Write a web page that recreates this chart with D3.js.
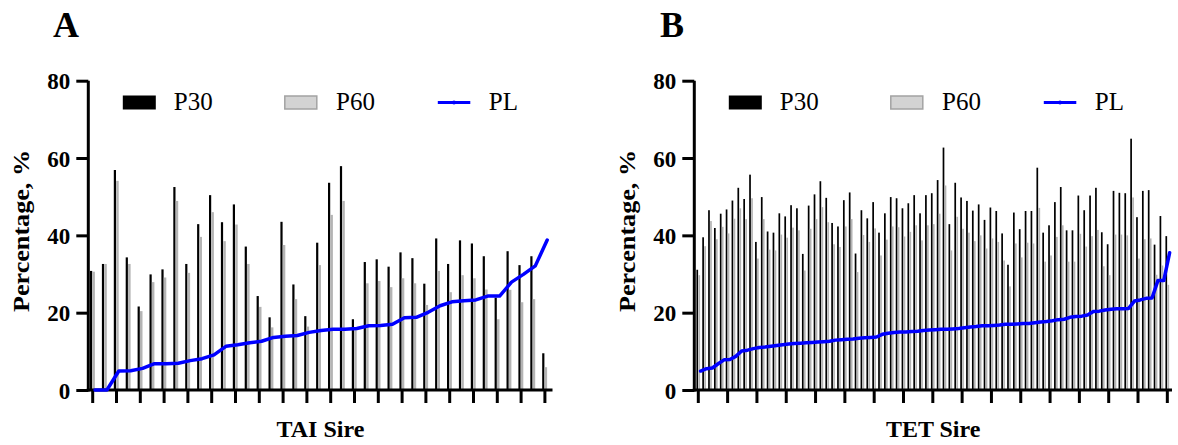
<!DOCTYPE html>
<html>
<head>
<meta charset="utf-8">
<script src="https://cdn.jsdelivr.net/npm/d3@7"></script>
<style>
  html, body { margin: 0; padding: 0; background: #fff; }
  svg { display: block; }
</style>
</head>
<body>
<svg id="chart" width="1178" height="445"></svg>
<script>
// ---------------- DATA ----------------
const seriesNames = ["P30", "P60", "PL"];
const yTicks = [0, 20, 40, 60, 80];

// Panel A: TAI Sire (39 sires)
const A_P30 = [30.8, 32.6, 56.9, 34.3, 21.6, 29.9, 31.2, 52.5, 32.6, 42.9,
               50.4, 43.4, 48.0, 37.1, 24.3, 18.8, 43.5, 27.3, 19.1, 38.1,
               53.6, 57.9, 18.3, 33.1, 33.8, 31.9, 35.6, 34.1, 27.5, 39.2,
               32.6, 38.7, 37.9, 34.6, 23.9, 35.9, 32.3, 34.6, 9.5];
const A_P60 = [30.6, 32.6, 54.1, 32.6, 20.4, 27.9, 29.1, 48.9, 30.3, 39.6,
               46.0, 38.5, 42.8, 32.6, 21.5, 16.2, 37.5, 23.5, 16.4, 32.3,
               45.3, 48.9, 15.7, 27.6, 28.2, 26.6, 28.9, 27.6, 22.0, 30.8,
               25.3, 29.7, 28.9, 26.0, 18.3, 25.9, 22.7, 23.5, 5.9];
const A_PL  = [0, 0, 4.9, 5.0, 5.6, 6.8, 6.8, 6.9, 7.6, 8.1,
               9.1, 11.3, 11.7, 12.2, 12.6, 13.6, 13.9, 14.1, 14.9, 15.4,
               15.7, 15.7, 15.9, 16.6, 16.7, 17.0, 18.7, 18.8, 20.1, 21.8,
               22.8, 23.1, 23.3, 24.3, 24.3, 27.9, 29.9, 32.1, 38.8];

// Panel B: TET Sire (81 sires)
const B_P30 = [31.1, 39.5, 46.5, 41.9, 45.6, 46.7, 49.0, 52.3, 49.4, 55.7,
               38.3, 49.9, 41.0, 40.7, 45.7, 44.9, 47.8, 47.0, 35.2, 47.7,
               50.6, 54.0, 49.7, 43.2, 42.3, 49.1, 51.1, 35.3, 46.5, 44.4,
               48.6, 40.7, 45.7, 49.9, 49.6, 47.0, 48.3, 50.4, 45.7, 50.4,
               50.9, 54.3, 62.7, 42.9, 53.6, 49.8, 48.9, 46.4, 48.0, 44.0,
               47.2, 46.3, 40.5, 32.4, 45.9, 41.6, 46.3, 46.3, 57.5, 40.7,
               42.6, 48.6, 52.5, 41.3, 41.3, 50.3, 46.5, 50.3, 52.3, 40.8,
               37.7, 51.5, 51.0, 50.9, 65.0, 44.7, 51.5, 51.7, 37.6, 45.0,
               39.8];
const B_P60 = [29.7, 37.2, 43.7, 39.0, 42.2, 40.5, 44.3, 47.0, 44.2, 49.6,
               34.0, 44.2, 36.3, 36.1, 40.2, 39.4, 42.0, 41.3, 30.9, 41.7,
               44.2, 47.3, 43.4, 37.7, 37.0, 42.3, 44.2, 30.5, 40.1, 38.3,
               41.8, 34.8, 38.9, 42.3, 42.1, 39.7, 40.9, 42.6, 38.7, 42.6,
               42.9, 45.6, 52.9, 36.1, 44.8, 41.7, 40.7, 38.5, 40.0, 36.6,
               39.2, 38.3, 33.5, 26.8, 37.9, 34.3, 38.1, 37.9, 47.1, 33.2,
               34.8, 39.6, 42.6, 33.2, 33.2, 40.4, 37.1, 39.8, 41.4, 32.0,
               29.7, 40.2, 40.2, 40.0, 49.8, 34.0, 39.0, 39.2, 29.8, 32.2,
               27.2];
const B_PL  = [4.9, 5.5, 5.7, 6.8, 7.8, 7.9, 8.7, 10.1, 10.3, 10.7,
               11.0, 11.1, 11.3, 11.5, 11.7, 11.9, 12.0, 12.1, 12.2, 12.3,
               12.4, 12.5, 12.6, 12.9, 13.0, 13.1, 13.2, 13.4, 13.5, 13.6,
               13.7, 14.4, 14.7, 14.9, 15.0, 15.0, 15.1, 15.2, 15.4, 15.5,
               15.6, 15.7, 15.7, 15.8, 15.9, 16.1, 16.3, 16.4, 16.6, 16.6,
               16.7, 16.8, 17.0, 17.0, 17.1, 17.2, 17.2, 17.4, 17.6, 17.7,
               17.9, 18.2, 18.3, 18.8, 19.0, 19.1, 19.4, 20.3, 20.4, 20.7,
               20.9, 21.0, 21.0, 21.1, 23.0, 23.3, 23.7, 23.8, 28.3, 28.3,
               35.5];

// ---------------- DRAW ----------------
const svg = d3.select("#chart");
const FONT = '"Liberation Serif", "Times New Roman", Tinos, serif';
const BLUE = "#0000ff";

function txt(sel, size, bold) {
  return sel.style("font-family", FONT).style("font-size", size + "px")
    .style("font-weight", bold ? "bold" : "normal").style("fill", "#000");
}

const panels = [
  { label: "A", xTitle: "TAI Sire", p30: A_P30, p60: A_P60, pl: A_PL,
    axisX: 88.3, bandRange: [86.75, 550.85], axisEnd: 552.5, tickEvery: 2,
    blackW: 2.2, blackOff: -2.7, greyW: 2.5, greyOff: -0.3, labelX: 53 },
  { label: "B", xTitle: "TET Sire", p30: B_P30, p60: B_P60, pl: B_PL,
    axisX: 694.3, bandRange: [695.37, 1170.26], axisEnd: 1172, tickEvery: 5,
    blackW: 1.7, blackOff: -1.9, greyW: 1.7, greyOff: 0.1, labelX: 660 }
];

const y = d3.scaleLinear().domain([0, 80]).range([390, 80.7]);

panels.forEach(p => {
  const n = p.p30.length;
  const cats = d3.range(n);
  const x = d3.scaleBand().domain(cats).range(p.bandRange).padding(0);
  const cx = i => x(i) + x.bandwidth() / 2;
  const g = svg.append("g");

  // panel letter
  txt(g.append("text").attr("x", p.labelX).attr("y", 37), 36, true).text(p.label);

  // bars P30
  g.selectAll(".b30").data(cats).join("rect")
    .attr("x", i => cx(i) + p.blackOff).attr("width", p.blackW)
    .attr("y", i => y(p.p30[i])).attr("height", i => y(0) - y(p.p30[i]))
    .attr("fill", "#000");
  // bars P60
  g.selectAll(".b60").data(cats).join("rect")
    .attr("x", i => cx(i) + p.greyOff).attr("width", p.greyW)
    .attr("y", i => y(p.p60[i])).attr("height", i => y(0) - y(p.p60[i]))
    .attr("fill", "#b4b4b4");

  // y axis
  const yAxis = d3.axisLeft(y).tickValues(yTicks).tickSize(12).tickPadding(6);
  const ya = g.append("g").attr("transform", `translate(${p.axisX},0)`).call(yAxis);
  ya.select(".domain").attr("d", `M0,${y(80)}V${y(0) + 1.5}`).attr("stroke-width", 3).attr("stroke", "#000");
  ya.selectAll(".tick line").attr("stroke-width", 3).attr("stroke", "#000");
  txt(ya.selectAll(".tick text"), 23, true).attr("dy", "0.36em");

  // x axis
  const xAxis = d3.axisBottom(x).tickValues(cats.filter(i => i % p.tickEvery === 0))
    .tickSize(13).tickFormat("");
  const xa = g.append("g").attr("transform", `translate(0,${y(0)})`).call(xAxis);
  xa.select(".domain").attr("d", `M${p.axisX - 1.5},0H${p.axisEnd}`).attr("stroke-width", 3).attr("stroke", "#000");
  xa.selectAll(".tick line").attr("stroke-width", 3).attr("stroke", "#000");

  // PL line
  const line = d3.line().x(i => cx(i) + 2.3).y(i => y(p.pl[i]));
  g.append("path").datum(cats).attr("d", line)
    .attr("fill", "none").attr("stroke", BLUE).attr("stroke-width", 3.5)
    .attr("stroke-linejoin", "round").attr("stroke-linecap", "round");

  // axis titles
  txt(g.append("text").attr("transform", `translate(${p.axisX - 59},231) rotate(-90)`)
    .attr("text-anchor", "middle")
    .attr("textLength", 162).attr("lengthAdjust", "spacingAndGlyphs"), 24, true)
    .text("Percentage, %");
  txt(g.append("text").attr("x", (p.axisX + p.axisEnd) / 2).attr("y", 437)
    .attr("text-anchor", "middle"), 24, true)
    .text(p.xTitle);

  // legend
  const lg = g.append("g").attr("transform", `translate(${p.axisX},0)`);
  lg.append("rect").attr("x", 34.5).attr("y", 95.5).attr("width", 33).attr("height", 14).attr("fill", "#000");
  txt(lg.append("text").attr("x", 85.5).attr("y", 110), 25, false).text(seriesNames[0]);
  lg.append("rect").attr("x", 196.5).attr("y", 96).attr("width", 32).attr("height", 13)
    .attr("fill", "#d3d3d3").attr("stroke", "#a3a3a3").attr("stroke-width", 1.5);
  txt(lg.append("text").attr("x", 247.7).attr("y", 110), 25, false).text(seriesNames[1]);
  lg.append("line").attr("x1", 349.5).attr("x2", 382).attr("y1", 102.5).attr("y2", 102.5)
    .attr("stroke", BLUE).attr("stroke-width", 3);
  lg.append("circle").attr("cx", 365.7).attr("cy", 102.5).attr("r", 2).attr("fill", BLUE);
  txt(lg.append("text").attr("x", 400.5).attr("y", 110), 25, false).text(seriesNames[2]);
});
</script>
</body>
</html>
